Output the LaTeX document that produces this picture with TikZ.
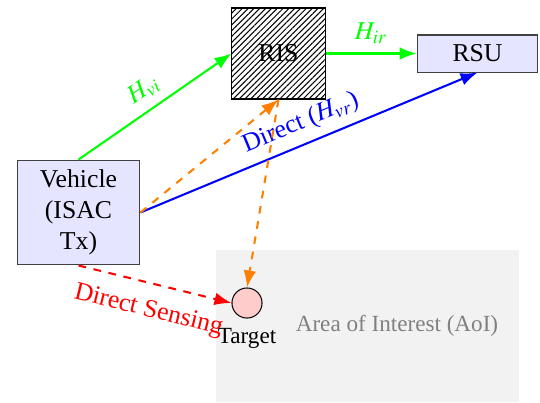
\documentclass[tikz,border=0pt]{standalone}
\usepackage{mathptmx}
\usepackage{fontspec}
\setmainfont{Liberation Serif}
\usetikzlibrary{arrows.meta,patterns.meta}
\begin{document}
\begin{tikzpicture}[x=0.389pt,y=-0.389pt,
  box/.style={draw=black!75, fill=blue!10, align=center, inner sep=0pt},
  link/.style={thick,-{Latex}},
  aoifill/.style={fill=gray!10}]
\useasboundingbox (0,0) rectangle (540,402);
\fill[aoifill] (216,250) rectangle (519,402);
\node[gray, font=\small] (aoi) at (397,326) {Area of Interest (AoI)};
\node[box, minimum width=47.8pt, minimum height=40.8pt] (veh) at (78.5,212.5) {Vehicle\\(ISAC\\Tx)};
\node[draw, pattern={Lines[angle=45,distance=1.6pt,line width=0.4pt]}, minimum width=36.2pt, minimum height=35.4pt] (ris) at (278.5,53.5) {RIS};
\node[box, minimum width=47pt, minimum height=14.4pt] (rsu) at (477.5,53.5) {RSU};
\node[circle, draw, fill=red!20, minimum size=11.7pt, inner sep=0pt,
      label={[font=\small, inner sep=0pt, label distance=3.5pt]below:Target}] (tgt) at (247,303) {};
\draw[link, green] (veh.north) -- node[sloped, above]{$H_{vi}$} (ris.west);
\draw[link, green] (ris.east) -- node[above]{$H_{ir}$} (rsu.west);
\draw[link, blue] (veh.east) -- node[sloped, above]{Direct ($H_{vr}$)} (rsu.south);
\draw[link, orange, dashed] (veh.east) -- (ris.south);
\draw[link, orange, dashed] (ris.south) -- (tgt.north);
\draw[link, red, dashed] (veh.south) -- node[sloped, below=2.5pt]{Direct Sensing} (tgt.west);
\end{tikzpicture}
\end{document}
